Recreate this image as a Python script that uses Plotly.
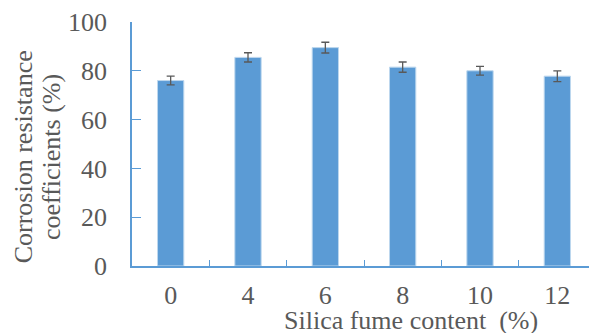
import plotly.graph_objects as go

categories = ["0", "4", "6", "8", "10", "12"]
values = [76.0, 85.5, 89.5, 81.5, 80.0, 77.8]
errors = [1.8, 1.9, 2.2, 2.1, 1.8, 2.2]
y_ticks = [0, 20, 40, 60, 80, 100]

font_family = "Times New Roman, Liberation Serif, serif"
gray = "#595959"
blue = "#5B9BD5"

fig = go.Figure(go.Bar(
    x=categories, y=values,
    marker=dict(color=blue, line=dict(color="#BDD7EE", width=1)),
    width=0.34,
    error_y=dict(type="data", array=errors, visible=True, color=gray, thickness=1.3, width=4),
))

fig.update_layout(
    width=589, height=325,
    margin=dict(l=124, r=1, t=14, b=67),
    plot_bgcolor="white", paper_bgcolor="white",
    showlegend=False,
    font=dict(family=font_family, color=gray, size=26),
    xaxis=dict(
        type="category", range=[-0.5, 5.5],
        showline=True, linecolor=blue, linewidth=1.5,
        ticks="inside", tickson="boundaries", ticklen=6, tickcolor=blue,
        tickfont=dict(size=26, color=gray, family=font_family),
        ticklabelstandoff=5,
        showgrid=False, zeroline=False,
    ),
    yaxis=dict(
        range=[0, 100], tickvals=y_ticks,
        showline=True, linecolor=blue, linewidth=1.5,
        ticks="inside", ticklen=9, tickcolor=blue,
        tickfont=dict(size=26, color=gray, family=font_family),
        ticklabelstandoff=18,
        showgrid=False, zeroline=False,
    ),
    annotations=[
        dict(text="Corrosion resistance", xref="paper", yref="paper",
             x=-0.232, y=0.447, xanchor="center", yanchor="middle", textangle=-90,
             showarrow=False, font=dict(size=26, color=gray, family=font_family)),
        dict(text="coefficients (%)", xref="paper", yref="paper",
             x=-0.172, y=0.447, xanchor="center", yanchor="middle", textangle=-90,
             showarrow=False, font=dict(size=26, color=gray, family=font_family)),
        dict(text="Silica fume content\u00a0 (%)", xref="paper", yref="paper",
             x=0.601, y=-0.222, xanchor="center", yanchor="middle",
             showarrow=False, font=dict(size=26, color=gray, family=font_family)),
    ],
)

fig.write_html("out.html")
